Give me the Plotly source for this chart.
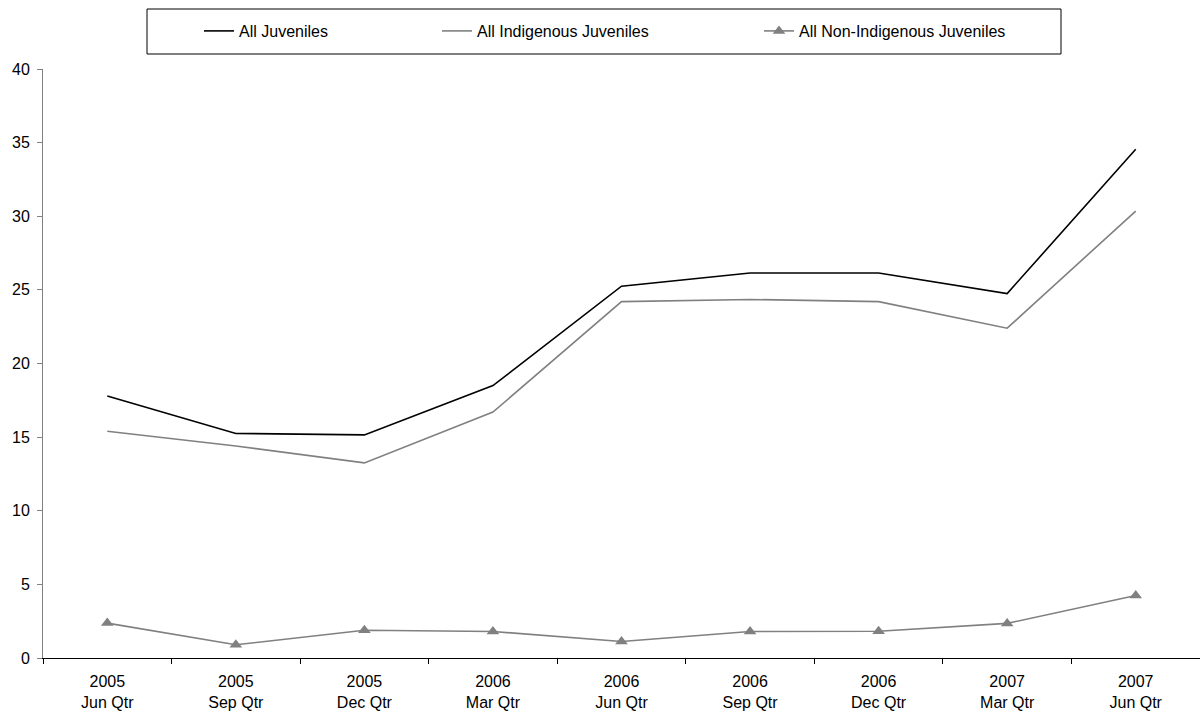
import plotly.graph_objects as go

categories = ["2005<br>Jun Qtr", "2005<br>Sep Qtr", "2005<br>Dec Qtr", "2006<br>Mar Qtr",
              "2006<br>Jun Qtr", "2006<br>Sep Qtr", "2006<br>Dec Qtr", "2007<br>Mar Qtr",
              "2007<br>Jun Qtr"]
all_juveniles = [17.8, 15.25, 15.15, 18.5, 25.25, 26.15, 26.15, 24.75, 34.55]
indigenous = [15.4, 14.4, 13.25, 16.7, 24.2, 24.35, 24.2, 22.4, 30.35]
non_indigenous = [2.37, 0.9, 1.88, 1.8, 1.12, 1.8, 1.82, 2.35, 4.25]
y_ticks = [0, 5, 10, 15, 20, 25, 30, 35, 40]

FONT = "Liberation Sans, Arial, sans-serif"
L, T, W, H = 43, 69, 1157, 589

def px_x(p):
    return (p - L) / W

def px_y(p):
    return (T + H - p) / H

fig = go.Figure()
fig.add_trace(go.Scatter(x=categories, y=all_juveniles, mode="lines", name="All Juveniles",
                         line=dict(color="#000000", width=1.6), legend="legend"))
fig.add_trace(go.Scatter(x=categories, y=indigenous, mode="lines", name="All Indigenous Juveniles",
                         line=dict(color="#808080", width=1.6), legend="legend2"))
fig.add_trace(go.Scatter(x=categories, y=non_indigenous, mode="lines+markers",
                         name="All Non-Indigenous Juveniles",
                         line=dict(color="#808080", width=1.6),
                         marker=dict(symbol="triangle-up", size=11, color="#808080"),
                         cliponaxis=False, legend="legend3"))

leg_common = dict(orientation="h", yanchor="middle", y=px_y(31), xanchor="left",
                  font=dict(family=FONT, size=16, color="#000000"),
                  bgcolor="rgba(0,0,0,0)", borderwidth=0)

fig.update_layout(
    width=1200, height=711,
    margin=dict(l=L, r=0, t=T, b=711 - T - H, autoexpand=False),
    plot_bgcolor="white", paper_bgcolor="white",
    font=dict(family=FONT, size=16, color="#000000"),
    showlegend=True,
    legend=dict(x=px_x(199), **leg_common),
    legend2=dict(x=px_x(437), **leg_common),
    legend3=dict(x=px_x(759), **leg_common),
    xaxis=dict(type="category", range=[-0.5, 8.5], showgrid=False, showline=True,
               linecolor="#000000", linewidth=1, ticks="outside", tickson="boundaries",
               ticklen=5, tickcolor="#000000", tickfont=dict(size=16), zeroline=False,
               ticklabelstandoff=9),
    yaxis=dict(range=[0, 40], tickvals=y_ticks, showgrid=False, showline=True,
               linecolor="#808080", linewidth=1, ticks="outside", ticklen=5,
               tickcolor="#808080", tickfont=dict(size=16), zeroline=False,
               ticklabelstandoff=4),
    shapes=[dict(type="rect", xref="paper", yref="paper",
                 x0=px_x(147), x1=px_x(1061), y0=px_y(54), y1=px_y(9),
                 line=dict(color="#000000", width=1), fillcolor="rgba(0,0,0,0)")],
)

fig.write_html("out.html", config={"displayModeBar": False},
               post_script="document.body.style.margin='0';document.body.style.overflow='hidden';")
